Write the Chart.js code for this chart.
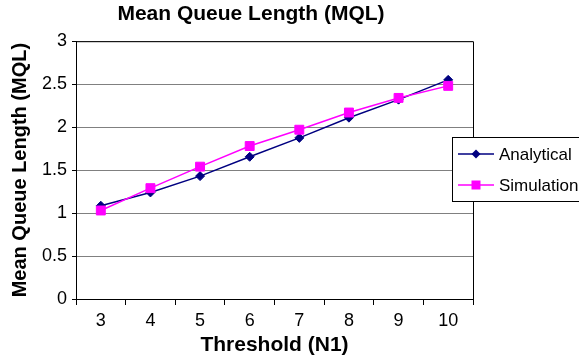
<!DOCTYPE html>
<html>
<head>
<meta charset="utf-8">
<script src="https://cdn.jsdelivr.net/npm/chart.js@4"></script>
<style>
  html, body { margin: 0; padding: 0; background: #fff; }
  #wrap { width: 579px; height: 361px; position: relative; }
</style>
</head>
<body>
<div id="wrap"><canvas id="c" width="579" height="361"></canvas></div>
<script>
const categories = ['3', '4', '5', '6', '7', '8', '9', '10'];
const analytical = [1.085, 1.24, 1.43, 1.655, 1.875, 2.11, 2.32, 2.55];
const simulation = [1.03, 1.29, 1.54, 1.78, 1.97, 2.17, 2.34, 2.48];
const seriesNames = ['Analytical', 'Simulation'];
const chartTitle = 'Mean Queue Length (MQL)';
const xTitle = 'Threshold (N1)';
const yTitle = 'Mean Queue Length (MQL)';

const FONT = '"Liberation Sans", Arial, Helvetica, sans-serif';

const frameAndLegend = {
  id: 'frameAndLegend',
  beforeDatasetsDraw(chart) {
    const {ctx, chartArea: a} = chart;
    ctx.save();
    ctx.strokeStyle = '#000';
    ctx.lineWidth = 1;
    ctx.beginPath();
    ctx.moveTo(a.left, a.top + 0.5);
    ctx.lineTo(a.right + 0.5, a.top + 0.5);
    ctx.lineTo(a.right + 0.5, a.bottom);
    ctx.stroke();
    ctx.restore();
  },
  afterDraw(chart) {
    const {ctx} = chart;
    ctx.save();
    const bx = 452.5, by = 137.5, bw = 200, bh = 64;
    ctx.fillStyle = '#fff';
    ctx.fillRect(bx, by, bw, bh);
    ctx.strokeStyle = '#000';
    ctx.lineWidth = 1;
    ctx.strokeRect(bx, by, bw, bh);
    const rows = [154, 185];
    chart.data.datasets.forEach((ds, i) => {
      const y = rows[i];
      ctx.strokeStyle = ds.borderColor;
      ctx.lineWidth = 1.5;
      ctx.beginPath();
      ctx.moveTo(458, y);
      ctx.lineTo(494, y);
      ctx.stroke();
      ctx.fillStyle = ds.pointBackgroundColor;
      ctx.beginPath();
      if (ds.pointStyle === 'rectRot') {
        const r = 4.5;
        ctx.moveTo(476 - r, y);
        ctx.lineTo(476, y - r);
        ctx.lineTo(476 + r, y);
        ctx.lineTo(476, y + r);
        ctx.closePath();
      } else {
        ctx.rect(476 - 4.5, y - 4.5, 9, 9);
      }
      ctx.fill();
      ctx.fillStyle = '#000';
      ctx.font = '17px ' + FONT;
      ctx.textBaseline = 'middle';
      ctx.textAlign = 'left';
      ctx.fillText(ds.label, 499, y + 1);
    });
    ctx.restore();
  }
};

new Chart(document.getElementById('c'), {
  type: 'line',
  data: {
    labels: categories,
    datasets: [
      {
        label: seriesNames[0],
        data: analytical,
        borderColor: '#000080',
        backgroundColor: '#000080',
        pointBackgroundColor: '#000080',
        pointBorderColor: '#000080',
        pointStyle: 'rectRot',
        pointRadius: 4.5,
        pointBorderWidth: 1,
        borderWidth: 1.5,
        tension: 0,
        order: 1
      },
      {
        label: seriesNames[1],
        data: simulation,
        borderColor: '#FF00FF',
        backgroundColor: '#FF00FF',
        pointBackgroundColor: '#FF00FF',
        pointBorderColor: '#FF00FF',
        pointStyle: 'rect',
        pointRadius: 6.3,
        pointBorderWidth: 1,
        borderWidth: 1.5,
        tension: 0,
        order: 0
      }
    ]
  },
  options: {
    responsive: false,
    animation: false,
    devicePixelRatio: 1,
    layout: { padding: { left: 0, right: 77, top: 0, bottom: 0 } },
    plugins: {
      legend: { display: false },
      tooltip: { enabled: false },
      title: {
        display: true,
        text: chartTitle,
        color: '#000',
        font: { family: FONT, size: 21, weight: 'bold' },
        padding: { top: 2, bottom: 14 }
      }
    },
    scales: {
      x: {
        type: 'category',
        offset: true,
        grid: {
          display: true,
          drawOnChartArea: false,
          drawTicks: true,
          tickLength: 6,
          offset: true,
          color: '#000',
          tickColor: '#000'
        },
        border: { display: true, color: '#000', width: 1 },
        ticks: {
          color: '#000',
          font: { family: FONT, size: 18 },
          padding: 5,
          maxRotation: 0,
          autoSkip: false
        },
        title: {
          display: true,
          text: xTitle,
          color: '#000',
          font: { family: FONT, size: 21, weight: 'bold' },
          padding: { top: 0, bottom: 3 }
        },
        afterFit(scale) { scale.height = 62; }
      },
      y: {
        min: 0,
        max: 3,
        grid: {
          color: '#808080',
          tickColor: '#000',
          drawTicks: true,
          tickLength: 4
        },
        border: { display: true, color: '#000', width: 1 },
        ticks: {
          stepSize: 0.5,
          color: '#000',
          font: { family: FONT, size: 18 },
          padding: 5,
          callback: (v) => String(v)
        },
        title: {
          display: true,
          text: yTitle,
          color: '#000',
          font: { family: FONT, size: 20, weight: 'bold' },
          padding: { top: 8, bottom: 0 }
        },
        afterFit(scale) { scale.width = 76; }
      },
      yRightSpacer: {
        type: 'linear',
        position: 'right',
        display: true,
        min: 0,
        max: 3,
        grid: { drawOnChartArea: false, drawTicks: false, display: false },
        border: { display: false },
        ticks: { display: false },
        title: { display: false },
        afterFit(scale) { scale.width = 29; }
      }
    }
  },
  plugins: [frameAndLegend]
});
</script>
</body>
</html>
